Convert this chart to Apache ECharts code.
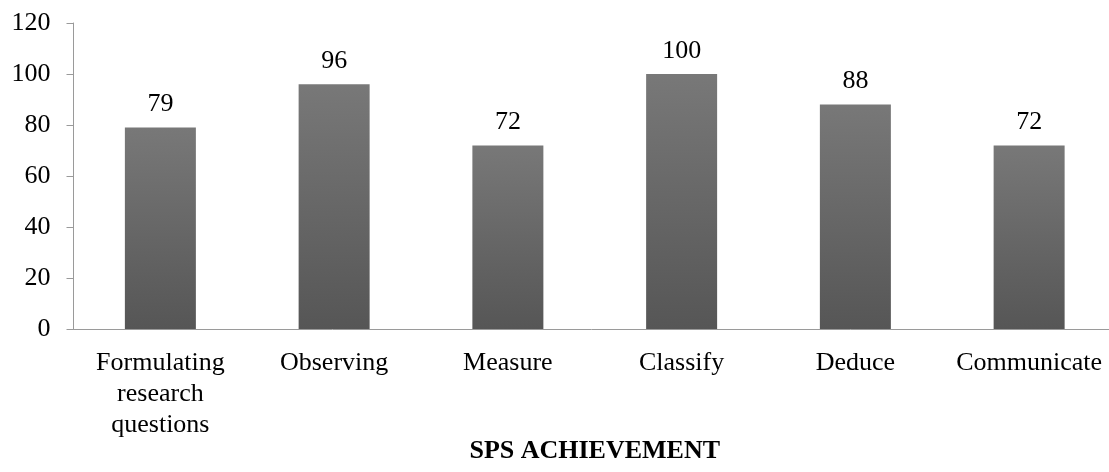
<!DOCTYPE html>
<html><head><meta charset="utf-8">
<script src="https://cdn.jsdelivr.net/npm/echarts@6/dist/echarts.min.js"></script>
<style>html,body{margin:0;padding:0;background:#fff}#c{width:1109px;height:472px}</style>
</head><body><div id="c"></div>
<script>
const categories = ['Formulating\nresearch\nquestions','Observing','Measure','Classify','Deduce','Communicate'];
const values = [79,96,72,100,88,72];
const yTicks = [0,20,40,60,80,100,120];
const xTitle = 'SPS ACHIEVEMENT';
const font = 'Liberation Serif';
const chart = echarts.init(document.getElementById('c'), null, {renderer:'canvas'});
chart.setOption({
  animation:false,
  grid:{left:73.5,right:-7,top:23,bottom:143,containLabel:false,outerBoundsMode:'none'},
  xAxis:{type:'category',data:categories,
    name:xTitle,nameLocation:'middle',nameGap:109,nameMoveOverlap:false,
    nameTextStyle:{fontFamily:font,fontSize:26,fontWeight:'bold',color:'#000'},
    axisLine:{lineStyle:{color:'#9a9a9a',width:1}},
    axisTick:{show:false},
    axisLabel:{fontFamily:font,fontSize:26,color:'#000',lineHeight:31,margin:19,interval:0}},
  yAxis:{type:'value',min:yTicks[0],max:yTicks[yTicks.length-1],interval:20,
    axisLine:{show:true,lineStyle:{color:'#9a9a9a',width:1}},
    axisTick:{show:true,length:7,lineStyle:{color:'#9a9a9a'}},
    splitLine:{show:false},
    axisLabel:{fontFamily:font,fontSize:26,color:'#000',margin:23}},
  series:[{type:'bar',data:values,barWidth:71,
    itemStyle:{color:new echarts.graphic.LinearGradient(0,0,0,1,[{offset:0,color:'#787878'},{offset:1,color:'#565656'}])},
    label:{show:true,position:'top',distance:10,fontFamily:font,fontSize:26,color:'#000'}}]
});
</script></body></html>
